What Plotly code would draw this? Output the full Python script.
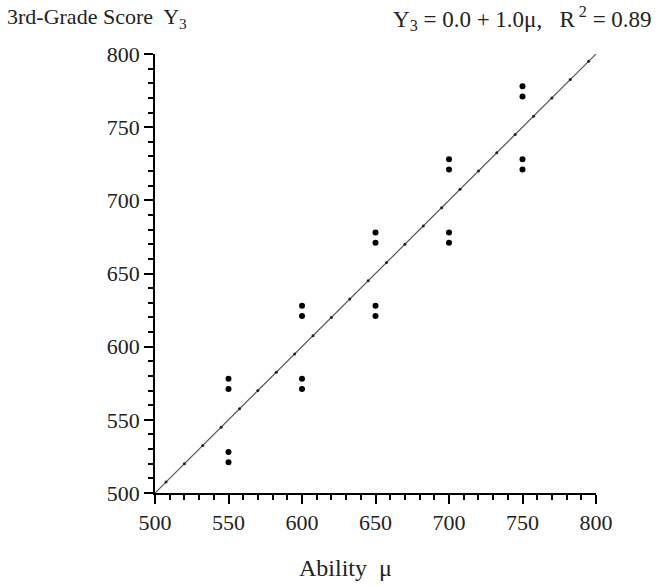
import plotly.graph_objects as go

# Data
ability = [550, 550, 550, 550, 600, 600, 600, 600, 650, 650, 650, 650,
           700, 700, 700, 700, 750, 750, 750, 750]
score = [521, 528, 571, 578, 571, 578, 621, 628, 621, 628, 671, 678,
         671, 678, 721, 728, 721, 728, 771, 778]
intercept = 0.0
slope = 1.0
line_x = [500, 800]
line_marks = [507.5 + 12.5 * k for k in range(24)]

fig = go.Figure()
fig.add_trace(go.Scatter(
    x=line_x, y=[intercept + slope * v for v in line_x], mode="lines",
    line=dict(color="#555555", width=1.2), hoverinfo="skip"))
fig.add_trace(go.Scatter(
    x=line_marks, y=[intercept + slope * v for v in line_marks], mode="markers",
    marker=dict(color="#222222", size=3), hoverinfo="skip"))
fig.add_trace(go.Scatter(
    x=ability, y=score, mode="markers",
    marker=dict(color="black", size=6)))

font = "Liberation Serif, Times New Roman, serif"
axis_common = dict(
    range=[500, 800], dtick=50, tick0=500, showgrid=False, zeroline=False,
    showline=True, linecolor="black", linewidth=1.5,
    ticks="outside", ticklen=9, tickwidth=1.5, tickcolor="black",
    tickfont=dict(family=font, size=22, color="#222222"),
    minor=dict(dtick=10, ticks="outside", ticklen=5, tickwidth=1.5, tickcolor="black"),
)
fig.update_xaxes(**axis_common)
fig.update_yaxes(**axis_common)

nb = "\u00a0"
eq_text = ("Y<sub>3</sub>" + nb + "=" + nb + "0.0" + nb + "+" + nb + "1.0μ," + nb * 3
           + "R<sup>" + nb + "2</sup>" + nb + "=" + nb + "0.89")

fig.update_layout(
    width=661, height=586,
    margin=dict(l=155, r=65, t=54, b=93),
    plot_bgcolor="white", paper_bgcolor="white",
    showlegend=False,
    font=dict(family=font, color="#222222"),
    annotations=[
        dict(text="3rd-Grade Score  Y<sub>3</sub>", xref="paper", yref="paper",
             x=-0.34, y=1.082, xanchor="left", yanchor="middle", showarrow=False,
             font=dict(family=font, size=22, color="#222222")),
        dict(text=eq_text, xref="paper", yref="paper",
             x=1.132, y=1.082, xanchor="right", yanchor="middle", showarrow=False,
             font=dict(family=font, size=23, color="#222222")),
        dict(text="Ability" + nb * 2 + "μ", xref="paper", yref="paper",
             x=0.431, y=-0.171, xanchor="center", yanchor="middle", showarrow=False,
             font=dict(family=font, size=24, color="#222222")),
    ],
)

fig.write_html("out.html", config={"displayModeBar": False},
               post_script="document.body.style.margin='0';document.body.style.overflow='hidden';")
